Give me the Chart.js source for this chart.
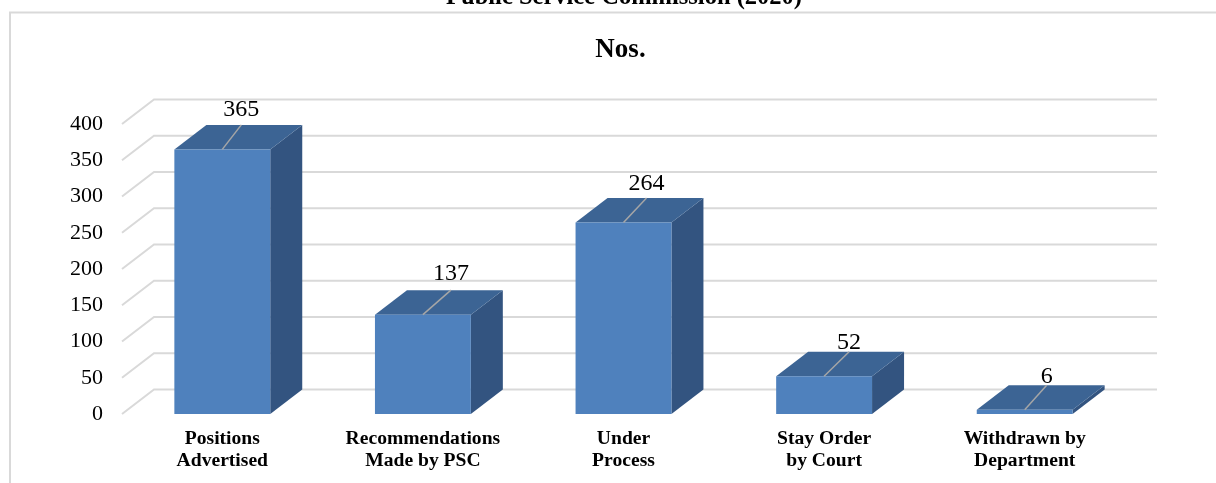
<!DOCTYPE html>
<html>
<head>
<meta charset="utf-8">
<style>html,body{margin:0;padding:0;background:#fff}canvas{display:block}</style>
<script src="https://cdn.jsdelivr.net/npm/chart.js@4/dist/chart.umd.js"></script>
</head>
<body>
<canvas id="c" width="1216" height="483"></canvas>
<script>
const categories = [["Positions","Advertised"],["Recommendations","Made by PSC"],["Under","Process"],["Stay Order","by Court"],["Withdrawn by","Department"]];
const values = [365,137,264,52,6];
const seriesName = "Nos.";
const clippedHeading = "Public Service Commission (2020)";
const yMax = 400, yStep = 50;

const SERIF = '"Liberation Serif","Times New Roman",serif';
const DX = 32, DY = -24.5;
const labelNudgeX = [19,28,23,25,22];
const labelNudgeY = [-15,-16,-14,-9,-8];

const depth3d = {
  id: 'depth3d',
  afterLayout(chart){
    const t = chart.titleBlock;
    t.left = 0; t.right = 1241;
  },
  beforeDraw(chart){
    const g = chart.ctx;
    g.save();
    g.strokeStyle = '#d9d9d9'; g.lineWidth = 2;
    g.beginPath(); g.moveTo(10,483); g.lineTo(10,12.5); g.lineTo(1216,12.5); g.stroke();
    g.fillStyle = '#000'; g.font = 'bold 24.5px ' + SERIF;
    g.textAlign = 'center'; g.textBaseline = 'alphabetic';
    g.fillText(clippedHeading, 624, 4);
    g.restore();
  },
  beforeDatasetsDraw(chart){
    const g = chart.ctx, y = chart.scales.y, area = chart.chartArea;
    g.save();
    g.strokeStyle = '#d9d9d9'; g.lineWidth = 2;
    for (const tick of y.ticks){
      const py = y.getPixelForValue(tick.value);
      g.beginPath();
      g.moveTo(area.left, py);
      g.lineTo(area.left + DX, py + DY);
      g.lineTo(area.right + DX, py + DY);
      g.stroke();
    }
    for (const bar of chart.getDatasetMeta(0).data){
      const l = bar.x - bar.width/2, r = bar.x + bar.width/2;
      g.fillStyle = '#335480';
      g.beginPath();
      g.moveTo(r, bar.base); g.lineTo(r+DX, bar.base+DY); g.lineTo(r+DX, bar.y+DY); g.lineTo(r, bar.y);
      g.closePath(); g.fill();
      g.fillStyle = '#3c6494';
      g.beginPath();
      g.moveTo(l, bar.y); g.lineTo(l+DX, bar.y+DY); g.lineTo(r+DX, bar.y+DY); g.lineTo(r, bar.y);
      g.closePath(); g.fill();
    }
    g.restore();
  },
  afterDatasetsDraw(chart){
    const g = chart.ctx;
    g.save();
    chart.getDatasetMeta(0).data.forEach((bar,i)=>{
      const nx = labelNudgeX[i];
      g.strokeStyle = '#a6a6a6'; g.lineWidth = 1.5;
      g.beginPath();
      g.moveTo(bar.x, bar.y);
      g.lineTo(bar.x + nx, bar.y + DY);
      g.stroke();
      g.fillStyle = '#000'; g.font = '24px ' + SERIF;
      g.textAlign = 'center'; g.textBaseline = 'middle';
      g.fillText(String(values[i]), bar.x + nx, bar.y + DY + labelNudgeY[i]);
    });
    g.restore();
  }
};

new Chart(document.getElementById('c'), {
  type: 'bar',
  data: {
    labels: categories,
    datasets: [{
      label: seriesName,
      data: values,
      backgroundColor: '#4f81bd',
      borderWidth: 0,
      barPercentage: 0.478,
      categoryPercentage: 1
    }]
  },
  plugins: [depth3d],
  options: {
    responsive: false,
    animation: false,
    layout: { padding: { left: 0, right: 91, top: 0, bottom: 0 } },
    plugins: {
      legend: { display: false },
      tooltip: { enabled: false },
      title: {
        display: true, text: seriesName, color: '#000',
        font: { family: SERIF, size: 27, weight: 'bold', lineHeight: 1.2 },
        padding: { top: 34, bottom: 57.6 }
      }
    },
    scales: {
      x: {
        grid: { display: false }, border: { display: false },
        afterFit(s){ s.height = 69; },
        ticks: { color: '#000', font: { family: SERIF, size: 19.6, weight: 'bold', lineHeight: 1.12 },
                 padding: 6, maxRotation: 0, minRotation: 0, autoSkip: false }
      },
      y: {
        min: 0, max: yMax,
        grid: { display: false }, border: { display: false },
        afterFit(s){ s.width = 122; },
        ticks: { stepSize: yStep, color: '#000', font: { family: SERIF, size: 22 }, padding: 11 }
      }
    }
  }
});
</script>
</body>
</html>
